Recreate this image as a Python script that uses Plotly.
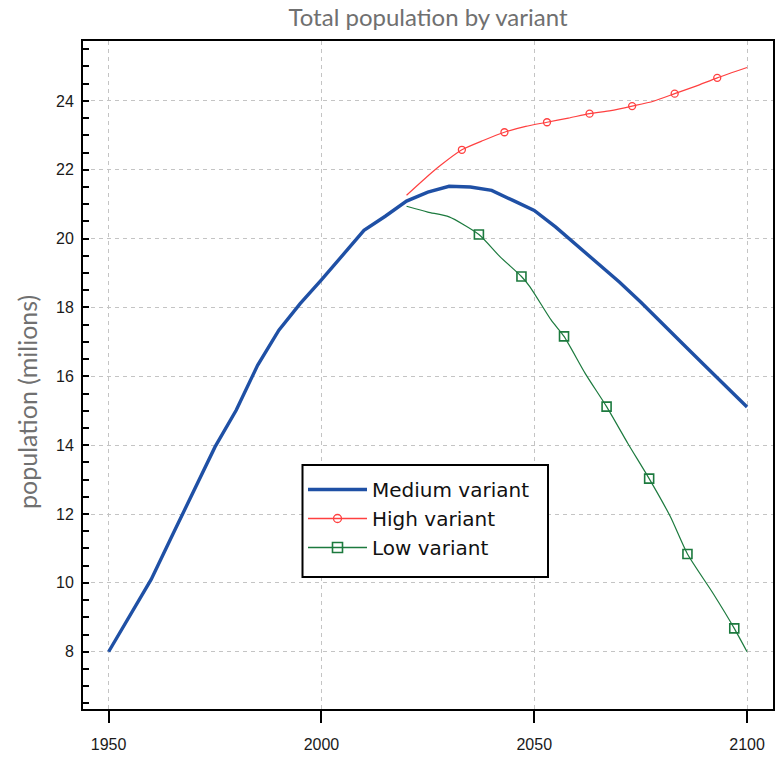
import plotly.graph_objects as go

# ---------------- data ----------------
medium_years = [1950, 1955, 1960, 1965, 1970, 1975, 1980, 1985, 1990, 1995,
                2000, 2005, 2010, 2015, 2020, 2025, 2030, 2035, 2040, 2045,
                2050, 2055, 2060, 2065, 2070, 2075, 2080, 2085, 2090, 2095, 2100]
medium_values = [8.0, 9.05, 10.1, 11.39, 12.69, 13.95, 15.02, 16.32, 17.34, 18.11,
                 18.8, 19.52, 20.24, 20.65, 21.09, 21.35, 21.52, 21.5, 21.4, 21.11,
                 20.82, 20.34, 19.8, 19.29, 18.74, 18.16, 17.53, 16.93, 16.32, 15.71, 15.11]

high_years = [2020, 2025, 2028, 2033, 2038, 2043, 2048, 2053, 2058, 2063,
              2068, 2073, 2078, 2083, 2088, 2093, 2100]
high_values = [21.26, 21.82, 22.13, 22.58, 22.85, 23.09, 23.26, 23.38, 23.5, 23.63,
               23.72, 23.85, 23.99, 24.21, 24.43, 24.67, 24.97]
high_marker_years = [2033, 2043, 2053, 2063, 2073, 2083, 2093]

low_years = [2020, 2025, 2030, 2037, 2042, 2047, 2049, 2054, 2057, 2062,
             2067, 2072, 2077, 2082, 2086, 2092, 2097, 2100]
low_values = [20.94, 20.77, 20.63, 20.12, 19.47, 18.9, 18.6, 17.63, 17.16, 16.08,
              15.12, 14.05, 13.03, 11.92, 10.84, 9.7, 8.68, 8.0]
low_marker_years = [2037, 2047, 2057, 2067, 2077, 2086, 2097]

x_ticks = [1950, 2000, 2050, 2100]
y_ticks = [8, 10, 12, 14, 16, 18, 20, 22, 24]

series_names = ["Medium variant", "High variant", "Low variant"]

# ---------------- styles ----------------
BLUE = "#1f50a5"
RED = "#ff4040"
GREEN = "#1c7a3e"
GRID = "#c4c4c4"

fig = go.Figure()

fig.add_trace(go.Scatter(x=medium_years, y=medium_values, mode="lines",
                         line=dict(color=BLUE, width=3.4), showlegend=False))
fig.add_trace(go.Scatter(x=high_years, y=high_values, mode="lines",
                         line=dict(color=RED, width=1.2, shape="spline", smoothing=0.6),
                         showlegend=False))
fig.add_trace(go.Scatter(x=low_years, y=low_values, mode="lines",
                         line=dict(color=GREEN, width=1.2, shape="spline", smoothing=0.6),
                         showlegend=False))

hm_x = [x for x in high_years if x in high_marker_years]
hm_y = [v for x, v in zip(high_years, high_values) if x in high_marker_years]
lm_x = [x for x in low_years if x in low_marker_years]
lm_y = [v for x, v in zip(low_years, low_values) if x in low_marker_years]

fig.add_trace(go.Scatter(x=hm_x, y=hm_y, mode="markers", showlegend=False,
                         marker=dict(symbol="circle-open", size=7, color=RED,
                                     line=dict(width=1.3, color=RED))))
fig.add_trace(go.Scatter(x=lm_x, y=lm_y, mode="markers", showlegend=False,
                         marker=dict(symbol="square-open", size=9, color=GREEN,
                                     line=dict(width=1.6, color=GREEN))))

# legend entries
fig.add_trace(go.Scatter(x=[None], y=[None], mode="lines", name=series_names[0],
                         line=dict(color=BLUE, width=3.6)))
fig.add_trace(go.Scatter(x=[None], y=[None], mode="lines+markers", name=series_names[1],
                         line=dict(color=RED, width=1.3),
                         marker=dict(symbol="circle-open", size=8, color=RED,
                                     line=dict(width=1.3, color=RED))))
fig.add_trace(go.Scatter(x=[None], y=[None], mode="lines+markers", name=series_names[2],
                         line=dict(color=GREEN, width=1.3),
                         marker=dict(symbol="square-open", size=10, color=GREEN,
                                     line=dict(width=1.6, color=GREEN))))

W, H = 779, 757
L, R, T, B = 83, 6, 41, 48
pw = W - L - R
ph = H - T - B

def px_x(x):
    return (x - L) / pw

def px_y(y):
    return (H - B - y) / ph

fig.update_layout(
    width=W, height=H, autosize=False,
    margin=dict(l=L, r=R, t=T, b=B, autoexpand=False),
    paper_bgcolor="white", plot_bgcolor="white",
    title=dict(text="Total population by variant", x=0.5, xref="paper",
               y=1 - 18 / H, yanchor="middle", xanchor="center", automargin=False,
               font=dict(family="Lato", size=24, color="#707070")),
    showlegend=True,
    legend=dict(x=px_x(303), y=px_y(470), xanchor="left", yanchor="top",
                bgcolor="rgba(0,0,0,0)", borderwidth=0,
                font=dict(family="DejaVu Sans", size=20, color="#111111"),
                itemwidth=59, tracegroupgap=0),
    shapes=[dict(type="rect", xref="paper", yref="paper",
                 x0=px_x(302.5), x1=px_x(548), y0=px_y(577), y1=px_y(465),
                 line=dict(color="black", width=2), fillcolor="white",
                 layer="above")],
    annotations=[dict(text="population (milions)", xref="paper", yref="paper",
                      x=px_x(27), y=px_y(402), xanchor="center", yanchor="middle",
                      textangle=-90, showarrow=False,
                      font=dict(family="Lato", size=25, color="#707070"))],
)

fig.update_xaxes(range=[1943.98, 2106.1], tickvals=x_ticks,
                 ticktext=[str(t) for t in x_ticks], automargin=False,
                 showline=True, linecolor="black", linewidth=2, mirror=True,
                 ticks="outside", ticklen=12, tickwidth=2, tickcolor="black",
                 ticklabelstandoff=8,
                 tickfont=dict(family="Liberation Sans", size=16, color="#1a1a1a"),
                 showgrid=True, gridcolor=GRID, gridwidth=1, griddash="4px,4px",
                 zeroline=False)
fig.update_yaxes(range=[6.337, 25.74], tickvals=y_ticks,
                 ticktext=[str(t) for t in y_ticks], automargin=False,
                 showline=True, linecolor="black", linewidth=2, mirror=True,
                 ticks="inside", ticklen=6, tickwidth=2, tickcolor="black",
                 ticklabelposition="outside", ticklabelstandoff=4,
                 tickfont=dict(family="Liberation Sans", size=16, color="#1a1a1a"),
                 minor=dict(dtick=0.5, tick0=0, ticks="inside", ticklen=6,
                            tickwidth=2, tickcolor="black", showgrid=False),
                 showgrid=True, gridcolor=GRID, gridwidth=1, griddash="4px,4px",
                 zeroline=False)

fig.write_html("out.html", config={"displayModeBar": False},
               post_script="document.body.style.margin='0px';document.body.style.padding='0px';")
